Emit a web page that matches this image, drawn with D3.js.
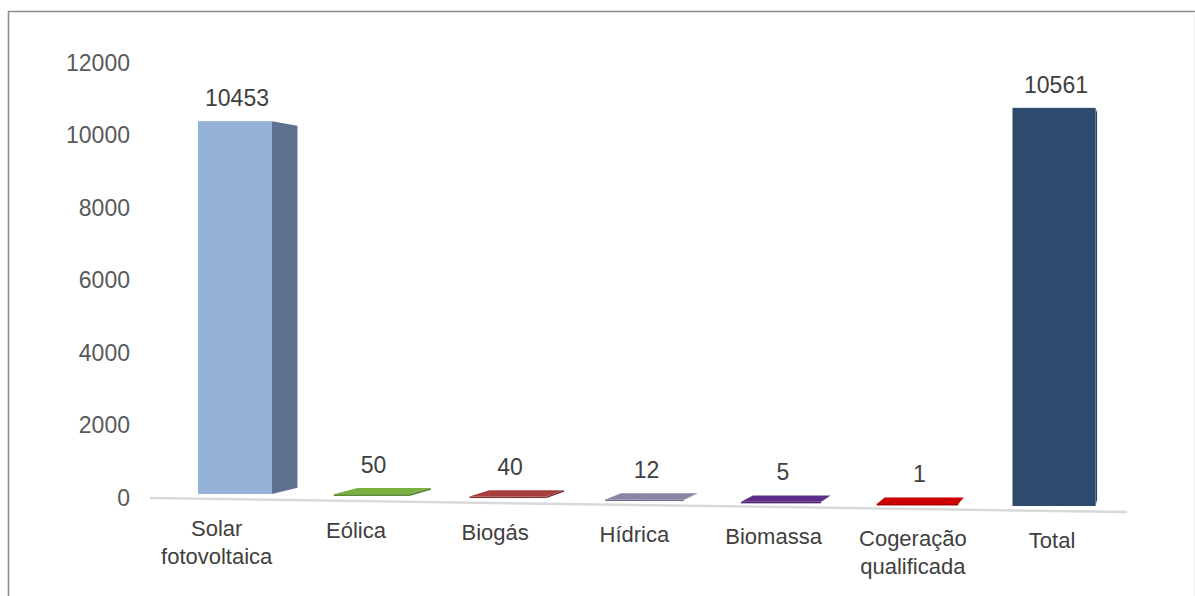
<!DOCTYPE html>
<html>
<head>
<meta charset="utf-8">
<script src="https://cdn.jsdelivr.net/npm/d3@7"></script>
<style>
  body{margin:0;background:#fff;}
  svg{display:block;font-family:Arial,"Liberation Sans",sans-serif;}
</style>
</head>
<body>
<svg id="main"></svg>
<script>
//--------data----------
const categories = [['Solar','fotovoltaica'], ['Eólica'], ['Biogás'], ['Hídrica'], ['Biomassa'], ['Cogeração','qualificada'], ['Total']];
const values = [10453, 50, 40, 12, 5, 1, 10561];
const yTicks = [0, 2000, 4000, 6000, 8000, 10000, 12000];
// front / side / top colours per bar
const frontColors = ['#95b3d7', '#5f8d33', '#8a3131', '#766c8f', '#4b2473', '#a80000', '#2e4a6c'];
const sideColors  = ['#5e7290', '#4f7a28', '#732828', '#62597a', '#3d1d5f', '#8a0000', '#2a4464'];
const topColors   = ['#b9cde5', '#79b241', '#a73d3d', '#8d83a6', '#5c2d8a', '#cc0000', '#3a5a80'];

//--------code----------
const width = 1195, height = 596;
const svg = d3.select('#main').attr('width', width).attr('height', height);

// frame
svg.append('path')
  .attr('d', `M8.5,${height} L8.5,11.5 L${width},11.5`)
  .attr('fill', 'none')
  .attr('stroke', '#8c8c8c')
  .attr('stroke-width', 1.6);
svg.append('line')
  .attr('x1', width-1).attr('x2', width-1).attr('y1', 12).attr('y2', height)
  .attr('stroke', '#eeeeee');

const y = d3.scaleLinear().domain([0, 12000]).range([498, 63]);
const idx = d3.range(categories.length);
const x = d3.scalePoint().domain(idx).range([235, 1054]);
// perspective: bars to the right are closer (wider, taller, lower base)
const barW = d3.scaleLinear().domain([0, 6]).range([74, 83]);
const base = d3.scaleLinear().domain([0, 6]).range([494, 506]);
const hf = d3.scaleLinear().domain([0, 6]).range([0.984, 1.04]);
const V = [1150, 280], depth = 0.029;
const back = (p) => [p[0] + depth*(V[0]-p[0]), p[1] + depth*(V[1]-p[1])];

// floor line
svg.append('line')
  .attr('x1', 150).attr('y1', y(0))
  .attr('x2', 1127).attr('y2', y(0) + 14)
  .attr('stroke', '#d9d9d9')
  .attr('stroke-width', 2.5);

// y axis
const gy = svg.append('g')
  .attr('transform', 'translate(130,0)')
  .call(d3.axisLeft(y).tickValues(yTicks).tickSize(0).tickPadding(0).tickFormat(d3.format('d')));
gy.select('.domain').remove();
gy.selectAll('text')
  .attr('fill', '#595959')
  .style('font-size', '23px')
  .style('font-family', 'Arial, "Liberation Sans", sans-serif');

const bars = idx.map(i => {
  let cx = x(i), w = barW(i), b = base(i);
  let h = (y(0) - y(values[i])) * hf(i);
  let fl = [cx - w/2, b - h], fr = [cx + w/2, b - h];
  let br = [cx + w/2, b], bl = [cx - w/2, b];
  return {i, cx, w, b, h, fl, fr, br, bl};
});

const pts = a => a.map(p => p.join(',')).join(' ');
const g = svg.append('g');
bars.forEach(d => {
  let bfr = back(d.fr), bbr = back(d.br), bfl = back(d.fl);
  // right side
  g.append('polygon')
    .attr('points', pts([d.fr, bfr, bbr, d.br]))
    .attr('fill', sideColors[d.i]);
  // top, visible when below the horizon
  if(bfr[1] < d.fr[1]){
    g.append('polygon')
      .attr('points', pts([d.fl, d.fr, bfr, bfl]))
      .attr('fill', topColors[d.i]);
  }
  // front
  g.append('rect')
    .attr('x', d.fl[0]).attr('y', d.fl[1])
    .attr('width', d.w).attr('height', Math.max(d.h, 1.5))
    .attr('fill', frontColors[d.i]);
});

// value labels
svg.selectAll('.val')
  .data(bars)
  .join('text')
  .attr('class', 'val')
  .attr('x', d => d.cx + 2)
  .attr('y', d => Math.min(d.fl[1], back(d.fl)[1]) - 15)
  .attr('text-anchor', 'middle')
  .attr('fill', '#404040')
  .style('font-size', '23px')
  .text(d => values[d.i]);

// category labels
svg.selectAll('.cat')
  .data(bars)
  .join('text')
  .attr('class', 'cat')
  .attr('text-anchor', 'middle')
  .attr('fill', '#404040')
  .style('font-size', '22px')
  .each(function(d){
    let t = d3.select(this);
    let lx = d.cx - 0.02*(V[0] - d.cx);
    let ly = 536 + 2*d.i;
    categories[d.i].forEach((s, k) => {
      t.append('tspan').attr('x', lx).attr('y', ly + k*28).text(s);
    });
  });
</script>
</body>
</html>
